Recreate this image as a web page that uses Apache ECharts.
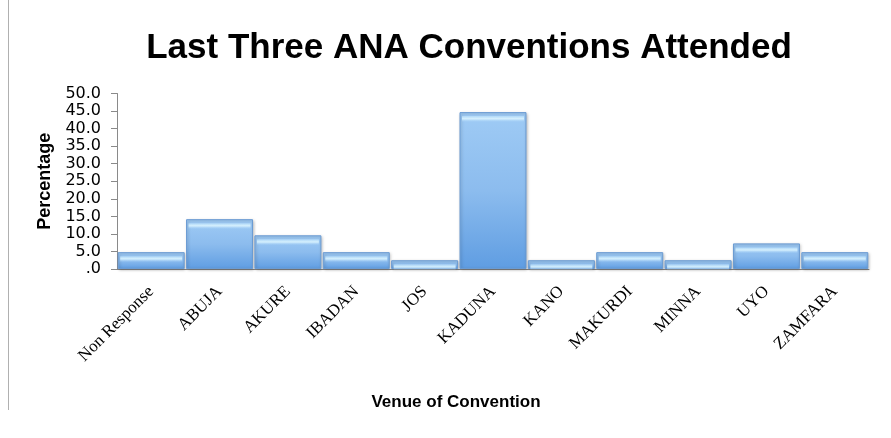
<!DOCTYPE html>
<html>
<head>
<meta charset="utf-8">
<script src="https://cdn.jsdelivr.net/npm/echarts@6/dist/echarts.min.js"></script>
<style>
  html, body { margin: 0; padding: 0; background: #fff; }
  #chart { width: 891px; height: 438px; }
</style>
</head>
<body>
<div id="chart"></div>
<script>
// Venues of the last three ANA conventions attended, as percentages of respondents
const venues = ['Non Response', 'ABUJA', 'AKURE', 'IBADAN', 'JOS', 'KADUNA', 'KANO', 'MAKURDI', 'MINNA', 'UYO', 'ZAMFARA'];
const percentages = [4.8, 14.2, 9.6, 4.8, 2.5, 44.7, 2.5, 4.8, 2.5, 7.3, 4.8];
const yTicks = [0, 5, 10, 15, 20, 25, 30, 35, 40, 45, 50];

const chart = echarts.init(document.getElementById('chart'));

// bevelled blue bar body
const barFill = new echarts.graphic.LinearGradient(0, 0, 0, 1, [
  { offset: 0, color: '#9fcbf5' },
  { offset: 0.5, color: '#8cbcee' },
  { offset: 1, color: '#5f9de2' }
]);
// pale highlight along the top edge of each bar
const topGlow = new echarts.graphic.LinearGradient(0, 0, 0, 1, [
  { offset: 0, color: 'rgba(200,234,253,0.5)' },
  { offset: 0.45, color: 'rgba(218,243,254,0.95)' },
  { offset: 1, color: 'rgba(170,212,248,0)' }
]);

chart.setOption({
  animation: false,
  title: [{
    text: 'Last Three ANA Conventions Attended',
    left: 464,
    top: 26,
    textAlign: 'center',
    textStyle: { fontFamily: 'Liberation Sans', fontWeight: 'bold', fontSize: 35, color: '#000' }
  }, {
    text: 'Venue of Convention',
    left: 451,
    top: 389,
    textAlign: 'center',
    textStyle: { fontFamily: 'Liberation Sans', fontWeight: 'bold', fontSize: 17, color: '#000' }
  }],
  grid: { left: 117, right: 22, top: 93.5, bottom: 169 },
  xAxis: {
    type: 'category',
    data: venues,
    axisLine: { lineStyle: { color: '#8a8a8a', width: 1 } },
    axisTick: { show: false },
    axisLabel: {
      rotate: 45,
      interval: 0,
      margin: 20,
      fontFamily: 'Liberation Serif',
      fontSize: 17,
      color: '#000'
    }
  },
  yAxis: {
    type: 'value',
    min: 0,
    max: 50,
    interval: 5,
    name: 'Percentage',
    nameLocation: 'middle',
    nameGap: 58,
    nameTextStyle: { fontFamily: 'Liberation Sans', fontWeight: 'bold', fontSize: 18, color: '#000' },
    splitLine: { show: false },
    axisLine: { show: true, lineStyle: { color: '#8a8a8a', width: 1 } },
    axisTick: { show: true, length: 6, lineStyle: { color: '#8a8a8a' } },
    axisLabel: {
      margin: 16,
      showMinLabel: true,
      showMaxLabel: true,
      fontFamily: 'DejaVu Sans',
      fontSize: 16,
      color: '#000',
      lineHeight: 14,
      formatter: function (v) {
        if (yTicks.indexOf(v) < 0) return '';
        return v === 0 ? '.0' : v.toFixed(1);
      }
    }
  },
  series: [{
    type: 'bar',
    data: percentages,
    barCategoryGap: '2%',
    itemStyle: {
      color: barFill,
      borderColor: '#6a9bd3',
      borderWidth: 1,
      shadowColor: 'rgba(0,0,0,0.25)',
      shadowBlur: 3,
      shadowOffsetX: 1,
      shadowOffsetY: 1
    }
  }, {
    type: 'pictorialBar',
    data: percentages,
    symbol: 'rect',
    symbolPosition: 'end',
    symbolSize: [62, 6],
    symbolOffset: [0, 4],
    silent: true,
    z: 3,
    itemStyle: { color: topGlow }
  }],
  graphic: [{
    type: 'line',
    shape: { x1: 8.5, y1: 0, x2: 8.5, y2: 410 },
    style: { stroke: '#b0b0b0', lineWidth: 1 }
  }]
});
</script>
</body>
</html>
